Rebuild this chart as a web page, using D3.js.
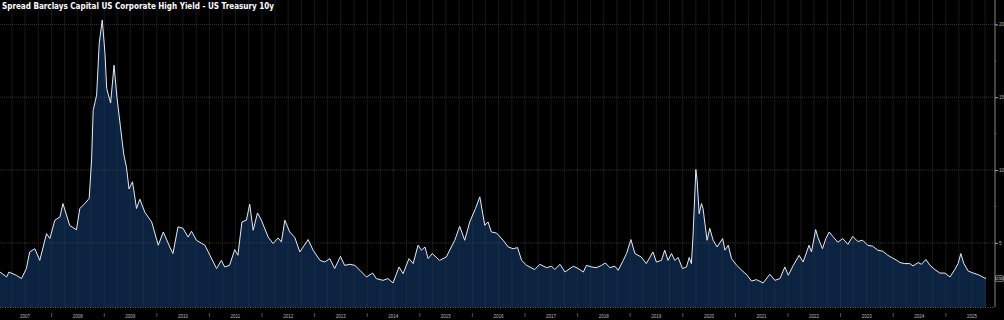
<!DOCTYPE html>
<html lang="en">
<head>
<meta charset="UTF-8">
<title>HY spread</title>
<script src="https://cdn.jsdelivr.net/npm/d3@7"></script>
<style>
  html, body { margin: 0; padding: 0; background: #000; }
  svg { display: block; }
</style>
</head>
<body>
<div id="chart"></div>
<script>
// spread readings (date, spread in %)
const dates = [
  "2007-01-08","2007-02-23","2007-03-11","2007-05-01","2007-06-06","2007-07-10","2007-08-02","2007-09-07",
  "2007-10-11","2007-11-27","2007-12-20","2008-01-24","2008-02-28","2008-03-20","2008-05-06","2008-06-22",
  "2008-07-15","2008-08-19","2008-09-18","2008-10-05","2008-10-16","2008-11-09","2008-11-27","2008-12-18",
  "2009-01-06","2009-01-18","2009-02-14","2009-03-10","2009-03-30","2009-04-23","2009-05-16","2009-06-04",
  "2009-06-22","2009-07-16","2009-08-13","2009-09-05","2009-10-10","2009-11-26","2010-01-11","2010-02-15",
  "2010-04-01","2010-04-23","2010-05-28","2010-07-02","2010-08-06","2010-08-30","2010-10-03","2010-12-01",
  "2011-01-05","2011-02-20","2011-03-25","2011-04-17","2011-05-21","2011-06-26","2011-07-18","2011-08-15",
  "2011-09-15","2011-10-08","2011-11-01","2011-12-01","2011-12-28","2012-02-13","2012-03-18","2012-04-22",
  "2012-05-15","2012-06-08","2012-07-12","2012-08-16","2012-09-20","2012-10-13","2012-11-17","2012-12-21",
  "2013-02-07","2013-03-12","2013-04-16","2013-05-20","2013-06-29","2013-07-28","2013-09-02","2013-10-07",
  "2013-11-11","2013-12-27","2014-02-08","2014-03-05","2014-04-20","2014-05-25","2014-06-29","2014-08-10",
  "2014-09-07","2014-10-18","2014-11-16","2014-12-20","2015-01-13","2015-02-06","2015-02-28","2015-03-29",
  "2015-05-18","2015-07-04","2015-08-08","2015-09-01","2015-10-05","2015-11-09","2015-12-14","2016-01-23",
  "2016-02-22","2016-03-27","2016-04-19","2016-05-12","2016-06-17","2016-08-02","2016-09-06","2016-10-10",
  "2016-11-10","2016-12-08","2017-01-12","2017-03-09","2017-04-13","2017-05-30","2017-07-04","2017-07-26",
  "2017-09-01","2017-10-05","2017-12-02","2018-01-05","2018-02-10","2018-03-03","2018-04-08","2018-05-12",
  "2018-06-16","2018-07-13","2018-08-12","2018-09-17","2018-10-10","2018-11-14","2018-12-07","2019-01-06",
  "2019-02-03","2019-03-19","2019-04-23","2019-06-08","2019-07-02","2019-08-06","2019-08-29","2019-09-21",
  "2019-10-15","2019-11-07","2019-11-30","2019-12-30","2020-01-27","2020-02-15","2020-03-01","2020-03-12",
  "2020-04-01","2020-04-10","2020-04-24","2020-05-10","2020-05-21","2020-06-18","2020-07-07","2020-07-30",
  "2020-08-27","2020-10-04","2020-10-20","2020-11-12","2020-12-05","2021-01-10","2021-02-14","2021-03-23",
  "2021-04-23","2021-05-27","2021-07-12","2021-08-28","2021-10-02","2021-11-06","2021-12-10","2022-01-03",
  "2022-02-07","2022-03-19","2022-04-16","2022-05-27","2022-06-13","2022-07-12","2022-07-28","2022-08-28",
  "2022-09-21","2022-10-14","2022-11-08","2022-12-13","2023-01-17","2023-02-21","2023-03-26","2023-04-30",
  "2023-06-04","2023-07-08","2023-08-12","2023-09-17","2023-10-21","2023-11-25","2023-12-30","2024-01-27",
  "2024-02-17","2024-03-22","2024-04-26","2024-05-18","2024-06-23","2024-07-16","2024-08-15","2024-09-13",
  "2024-10-17","2024-11-21","2024-12-26","2025-01-30","2025-03-04","2025-03-27","2025-04-15","2025-05-06",
  "2025-06-05","2025-07-10","2025-08-14","2025-09-14","2025-10-07"
]
const spread = [
  3.00,2.66,3.00,2.78,2.55,3.24,4.38,4.60,
  3.80,5.64,5.30,6.56,6.78,7.70,6.20,5.90,
  7.36,7.70,8.05,10.7,14.1,15.15,18.7,20.3,
  18.0,15.6,14.6,17.2,15.0,13.0,11.1,10.2,
  8.70,9.20,7.36,8.00,7.10,6.44,4.84,5.75,
  4.72,4.27,6.10,6.00,5.40,5.80,5.18,4.84,
  4.15,3.24,3.80,3.35,3.46,4.54,4.15,6.44,
  6.56,7.66,5.87,7.06,6.56,5.40,4.96,5.34,
  5.07,6.56,5.75,5.37,4.38,4.72,5.23,4.50,
  3.80,3.69,3.92,3.24,4.08,3.46,3.53,3.46,
  3.12,2.66,2.93,2.55,2.43,2.55,2.25,3.35,
  2.89,3.92,3.58,4.84,4.50,4.72,3.92,4.27,
  3.80,4.03,4.72,5.18,6.14,5.18,6.44,7.36,
  8.16,6.21,6.44,5.75,5.68,5.18,4.72,4.60,
  4.68,3.80,3.46,3.17,3.53,3.30,3.40,3.17,
  3.53,3.00,3.40,3.24,3.00,3.46,3.35,3.30,
  3.46,3.62,3.30,3.40,3.12,3.80,4.27,5.23,
  4.27,4.03,3.58,4.38,3.69,3.80,4.50,3.80,
  4.27,3.80,4.00,3.24,3.35,4.00,3.58,5.40,
  10.04,9.30,7.00,7.70,7.36,5.18,6.00,5.18,
  4.72,5.30,4.50,4.84,3.92,3.46,3.12,2.78,
  2.38,2.48,2.25,2.85,2.43,2.55,3.35,2.78,
  3.46,4.15,3.69,4.84,4.38,5.92,5.37,4.60,
  5.30,5.75,5.45,5.05,5.30,4.90,5.45,5.10,
  5.18,4.84,4.77,4.50,4.43,4.15,3.95,3.80,
  3.65,3.58,3.58,3.42,3.65,3.53,3.86,3.46,
  3.17,2.93,2.93,2.66,3.17,3.58,4.27,3.58,
  3.07,2.93,2.82,2.66,2.55
]
const yTicks = [5, 10, 15, 20]
const years = d3.range(2007, 2026)
const title = 'Spread Barclays Capital US Corporate High Yield - US Treasury 10y'

const width = 1004, height = 320
const plotRight = 995, plotBottom = 307

const parse = d3.timeParse('%Y-%m-%d')
const data = dates.map((d, i) => ({ date: parse(d), value: spread[i] }))

const x = d3.scaleTime()
  .domain([new Date(2007, 0, 1), new Date(2026, 0, 1)])
  .range([-1, 998.4])

const y = d3.scaleLinear()
  .domain([0.6, 20])
  .range([plotBottom, 24.4])

const svg = d3.select('#chart').append('svg')
  .attr('width', width)
  .attr('height', height)
  .style('background', '#000')

svg.append('defs').append('clipPath').attr('id', 'plotClip')
  .append('rect').attr('x', 0).attr('y', 0).attr('width', plotRight).attr('height', plotBottom)

// area + line
const area = d3.area()
  .x(d => x(d.date))
  .y0(plotBottom)
  .y1(d => y(d.value))

const line = d3.line()
  .x(d => x(d.date))
  .y(d => y(d.value))

const plot = svg.append('g').attr('clip-path', 'url(#plotClip)')

plot.append('path')
  .datum(data)
  .attr('d', area)
  .attr('fill', '#0b2241')

// vertical quarterly grid
const quarters = d3.timeMonth.every(3).range(new Date(2007, 0, 1), new Date(2026, 0, 1))
plot.selectAll('.vgrid')
  .data(quarters)
  .join('line')
  .attr('class', 'vgrid')
  .attr('x1', d => x(d)).attr('x2', d => x(d))
  .attr('y1', 0).attr('y2', plotBottom)
  .attr('stroke', '#3a3f48')
  .attr('stroke-opacity', 0.55)
  .attr('stroke-width', 0.7)

// horizontal grid
plot.selectAll('.hgrid')
  .data(yTicks)
  .join('line')
  .attr('class', 'hgrid')
  .attr('x1', 0).attr('x2', plotRight)
  .attr('y1', d => y(d)).attr('y2', d => y(d))
  .attr('stroke', '#4a4a4a')
  .attr('stroke-width', 0.7)
  .attr('stroke-dasharray', '1,1')

plot.append('path')
  .datum(data)
  .attr('d', line)
  .attr('fill', 'none')
  .attr('stroke', '#e6ecf2')
  .attr('stroke-width', 1)
  .attr('stroke-linejoin', 'round')

// baseline dotted
svg.append('line')
  .attr('x1', 0).attr('x2', plotRight)
  .attr('y1', plotBottom + 0.5).attr('y2', plotBottom + 0.5)
  .attr('stroke', '#8a8a8a')
  .attr('stroke-width', 0.8)
  .attr('stroke-dasharray', '1,1.5')

// right axis
const yAxis = d3.axisRight(y)
  .tickValues(yTicks)
  .tickSize(3)
  .tickPadding(1)
  .tickFormat(d3.format('d'))

const ax = svg.append('g')
  .attr('transform', `translate(${plotRight},0)`)
  .call(yAxis)
ax.select('.domain').attr('d', `M0,0V${plotBottom}`).attr('stroke', '#888')
ax.selectAll('.tick line').attr('stroke', '#aaa')
ax.selectAll('.tick text')
  .attr('fill', '#bbb')
  .style('font-family', 'Liberation Sans, Arial, sans-serif')
  .style('font-size', '4.5px')

// minor ticks
svg.selectAll('.minor')
  .data(d3.range(2.5, 20, 5))
  .join('line')
  .attr('class', 'minor')
  .attr('x1', plotRight).attr('x2', plotRight + 1.5)
  .attr('y1', d => y(d)).attr('y2', d => y(d))
  .attr('stroke', '#888')
  .attr('stroke-width', 0.6)

// last value label
const last = data[data.length - 1]
const lab = svg.append('g').attr('transform', `translate(${plotRight + 0.5},${y(last.value)})`)
lab.append('rect')
  .attr('x', 0).attr('y', -3)
  .attr('width', 8).attr('height', 6)
  .attr('rx', 1)
  .attr('fill', '#111')
  .attr('stroke', '#ddd')
  .attr('stroke-width', 0.5)
lab.append('text')
  .attr('x', 4).attr('y', 1.4)
  .attr('text-anchor', 'middle')
  .attr('fill', '#eee')
  .style('font-family', 'Liberation Sans, Arial, sans-serif')
  .style('font-size', '3.6px')
  .text(last.value.toFixed(2))

// x axis: year labels centered, separators at year starts
const xg = svg.append('g')
xg.selectAll('.sep')
  .data(years.slice(1))
  .join('line')
  .attr('class', 'sep')
  .attr('x1', d => x(new Date(d, 0, 1))).attr('x2', d => x(new Date(d, 0, 1)))
  .attr('y1', 313).attr('y2', 317)
  .attr('stroke', '#777')
  .attr('stroke-width', 0.7)

xg.selectAll('.yl')
  .data(years)
  .join('text')
  .attr('class', 'yl')
  .attr('x', d => x(new Date(d, 6, 1)))
  .attr('y', 317.5)
  .attr('text-anchor', 'middle')
  .attr('fill', '#bbb')
  .style('font-family', 'Liberation Sans, Arial, sans-serif')
  .style('font-size', '4.5px')
  .text(d => d)

// title
svg.append('text')
  .attr('x', 2).attr('y', 8.5)
  .attr('fill', '#fff')
  .attr('textLength', 272)
  .attr('lengthAdjust', 'spacingAndGlyphs')
  .style('font-family', 'DejaVu Sans, sans-serif')
  .style('font-weight', 'bold')
  .style('font-size', '8.5px')
  .text(title)
</script>
</body>
</html>
